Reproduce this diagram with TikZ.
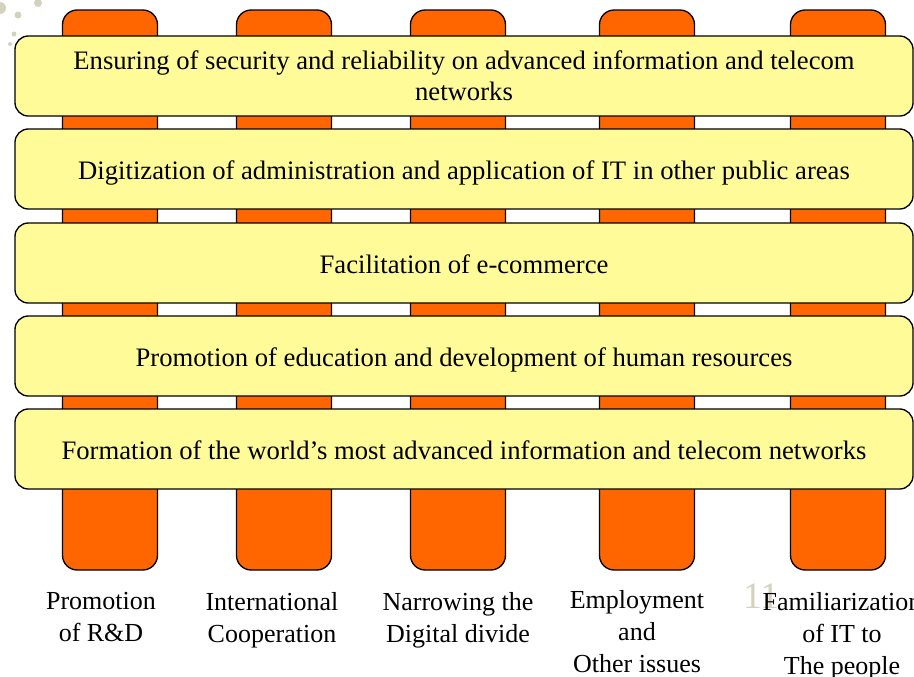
\documentclass[tikz,border=0pt]{standalone}
\usepackage{fontspec}
\setmainfont{Liberation Serif}
\usetikzlibrary{positioning}

\definecolor{pillarorange}{HTML}{FF6600}
\definecolor{baryellow}{HTML}{FFFB99}
\definecolor{slidegrey}{HTML}{D2D2BE}

\begin{document}
\begin{tikzpicture}[x = 0.75pt, y = -0.75pt,
        every node/.style = {font = \fontsize{20}{23.5}\selectfont},
        pillar/.style = {draw, line width = 1pt, fill = pillarorange, rounded corners = 11pt, minimum width = 71.25pt, minimum height = 420pt, inner sep = 0pt},
        bar/.style = {draw, line width = 1pt, fill = baryellow, rounded corners = 10pt, minimum width = 673.5pt, minimum height = 60pt, inner sep = 0pt, align = center},
        oneline/.style = {text height = 15pt, text depth = 0pt},
        caption/.style = {align = center, inner sep = 0pt, font = \fontsize{19.5}{24}\selectfont},
        spot/.style = {fill = slidegrey, draw = none}]
            \useasboundingbox (0,0) rectangle (914,676);
            % background spots
            \fill[spot] (0,8) circle (6);
            \fill[spot] (38,3) circle (4);
            \fill[spot] (18,15) circle (3.5);
            \fill[spot] (14,34) circle (2.5);
            \fill[spot] (10,44) circle (2);
            % pillars
            \node[pillar] (p1) at (110,290) {};
            \node[pillar] (p2) at (284,290) {};
            \node[pillar] (p3) at (458,290) {};
            \node[pillar] (p4) at (647,290) {};
            \node[pillar] (p5) at (838,290) {};
            % cross bars
            \node[bar] (b1) at (464,76) {Ensuring of security and reliability on advanced information and telecom\\networks};
            \node[bar, oneline] (b2) at (464,169) {Digitization of administration and application of IT in other public areas};
            \node[bar, oneline] (b3) at (464,263) {Facilitation of e-commerce};
            \node[bar, oneline] (b4) at (464,356) {Promotion of education and development of human resources};
            \node[bar, oneline] (b5) at (464,449) {Formation of the world’s most advanced information and telecom networks};
            % slide number
            \node[text = slidegrey, font = \fontsize{28}{28}\selectfont, inner sep = 0pt] (num) at (761,596) {11};
            % captions
            \node[caption, anchor = north] (l1) at (101,592) {Promotion\\of R\&D};
            \node[caption, anchor = north] (l2) at (272,592) {International\\Cooperation};
            \node[caption, anchor = north] (l3) at (458,592) {Narrowing the\\Digital divide};
            \node[caption, anchor = north] (l4) at (637,590) {Employment\\and\\Other issues};
            \node[caption, anchor = north] (l5) at (842,592) {Familiarization\\of IT to\\The people};
        \end{tikzpicture}
\end{document}
